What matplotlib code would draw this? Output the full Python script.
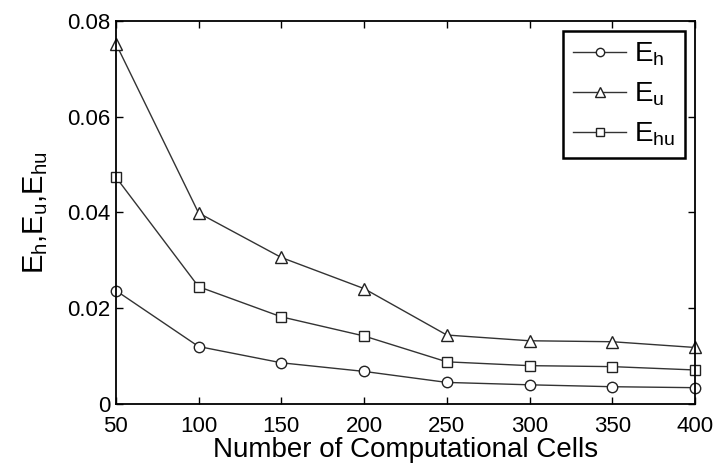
import matplotlib
matplotlib.use('Agg')
import matplotlib.pyplot as plt

plt.rcParams['font.family'] = ['Liberation Sans', 'DejaVu Sans']
plt.rcParams['mathtext.fontset'] = 'custom'
plt.rcParams['mathtext.rm'] = 'Liberation Sans'
plt.rcParams['mathtext.it'] = 'Liberation Sans'

# data
cells = [50, 100, 150, 200, 250, 300, 350, 400]
E_h = [0.0237, 0.0120, 0.0086, 0.0068, 0.0045, 0.0040, 0.0036, 0.0034]
E_u = [0.0753, 0.0399, 0.0306, 0.0241, 0.0144, 0.0132, 0.0130, 0.0118]
E_hu = [0.0474, 0.0245, 0.0182, 0.0142, 0.0088, 0.0080, 0.0078, 0.0071]

fig = plt.figure(figsize=(7.15, 4.67), dpi=100)
ax = fig.add_axes([0.162, 0.135, 0.810, 0.820])

style = dict(color='#333333', lw=1.0, mfc='white', mec='#222222', mew=1.0, ms=7.5, clip_on=False)
ax.plot(cells, E_h, marker='o', label=r'$\mathrm{E_h}$', **style)
ax.plot(cells, E_u, marker='^', label=r'$\mathrm{E_u}$', **{**style, 'ms': 8.5})
ax.plot(cells, E_hu, marker='s', label=r'$\mathrm{E_{hu}}$', **{**style, 'ms': 7})

ax.set_xlim(50, 400)
ax.set_ylim(0, 0.08)
ax.set_xticks(cells)
ax.set_yticks([0, 0.02, 0.04, 0.06, 0.08])
ax.set_yticklabels(['0', '0.02', '0.04', '0.06', '0.08'])
ax.tick_params(direction='in', top=True, right=True, length=5, width=1, labelsize=16)
ax.tick_params(axis='x', pad=9)
ax.tick_params(axis='y', pad=4)
for s in ax.spines.values():
    s.set_linewidth(1.3)

ax.set_xlabel('Number of Computational Cells', fontsize=20, labelpad=0)
ax.set_ylabel(r'$\mathrm{E_h}$,$\mathrm{E_u}$,$\mathrm{E_{hu}}$', fontsize=21, labelpad=12)

leg = ax.legend(loc='upper right', bbox_to_anchor=(0.983, 0.974), borderaxespad=0,
                fontsize=20, fancybox=False, edgecolor='black', framealpha=1,
                handlelength=1.9, handletextpad=0.3, markerscale=0.8,
                labelspacing=0.45, borderpad=0.35)
leg.get_frame().set_linewidth(1.8)

fig.savefig('out.png', dpi=100)
